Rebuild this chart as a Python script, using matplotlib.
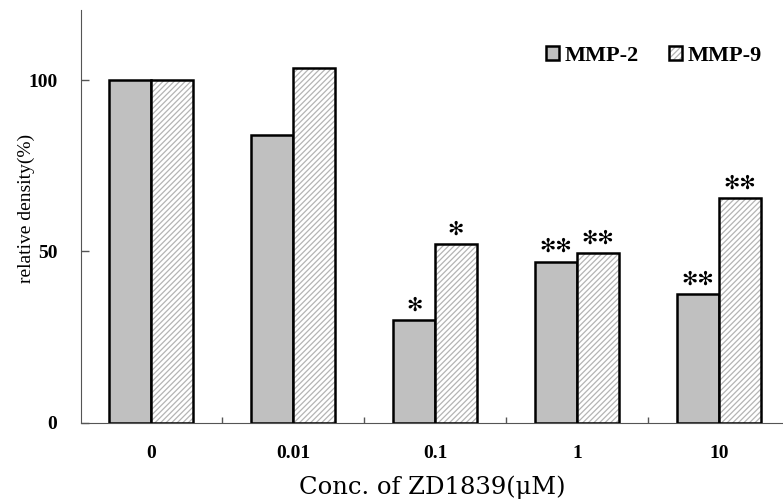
import numpy as np
import matplotlib
matplotlib.use("Agg")
import matplotlib.pyplot as plt

# data
conc = ["0", "0.01", "0.1", "1", "10"]
mmp2 = [100, 84, 30, 47, 37.5]
mmp9 = [100, 103.5, 52, 49.5, 65.5]
mmp2_sig = ["", "", "✻", "✻✻", "✻✻"]
mmp9_sig = ["", "", "✻", "✻✻", "✻✻"]

plt.rcParams['hatch.linewidth'] = 0.9
serif = ["Liberation Serif", "DejaVu Serif"]

fig = plt.figure(figsize=(7.83, 5.03), dpi=100)
ax = fig.add_axes([81 / 783, 80.5 / 503, 702 / 783, 412.5 / 503])

x = np.arange(len(conc))
w = 0.295

b2 = ax.bar(x - w / 2, mmp2, w, color="#c0c0c0", edgecolor="black", linewidth=1.8, zorder=2)
# hatched bars: hatch in light grey, outline drawn on top in black
b9h = ax.bar(x + w / 2, mmp9, w, color="white", edgecolor="#b4b4b4", hatch="//////", linewidth=0, zorder=2)
b9 = ax.bar(x + w / 2, mmp9, w, fill=False, edgecolor="black", linewidth=1.8, zorder=3)

# significance marks
for xi, v, s in zip(x - w / 2, mmp2, mmp2_sig):
    if s:
        ax.annotate(s, (xi, v), xytext=(0, 4), textcoords="offset points",
                    ha="center", va="bottom", fontsize=14, fontfamily="DejaVu Sans")
for xi, v, s in zip(x + w / 2, mmp9, mmp9_sig):
    if s:
        ax.annotate(s, (xi, v), xytext=(0, 4), textcoords="offset points",
                    ha="center", va="bottom", fontsize=14, fontfamily="DejaVu Sans")

ax.set_xlim(-0.493, 4.45)
ax.set_ylim(0, 120.5)

ax.spines["top"].set_visible(False)
ax.spines["right"].set_visible(False)
ax.spines["left"].set_color("#555555")
ax.spines["bottom"].set_color("#555555")

ax.set_yticks([0, 50, 100])
ax.set_yticklabels(["0", "50", "100"], fontfamily=serif, fontweight="bold", fontsize=14)
ax.tick_params(axis="y", direction="in", length=6, width=1, color="#555555", pad=17)

ax.set_xticks(x)
ax.set_xticklabels(conc, fontfamily=serif, fontweight="bold", fontsize=14)
ax.tick_params(axis="x", length=0, pad=16)
ax.set_xticks(x[:-1] + 0.5, minor=True)
ax.tick_params(axis="x", which="minor", direction="in", length=4, width=1, color="#555555")

ax.set_ylabel("relative density(%)", fontfamily=serif, fontsize=14)
ax.yaxis.set_label_coords(-0.065, 0.52)
ax.set_xlabel("Conc. of ZD1839(μM)", fontfamily="DejaVu Serif", fontsize=17.5)
ax.xaxis.set_label_coords(0.5, -0.128)

leg = ax.legend([b2, (b9h, b9)], ["MMP-2", "MMP-9"], ncol=2, frameon=False,
                loc="upper left", bbox_to_anchor=(526 / 783, 1 - 26 / 503),
                bbox_transform=fig.transFigure,
                handlelength=0.6, handleheight=0.6, handletextpad=0.25, columnspacing=1.33,
                prop={"family": serif, "weight": "bold", "size": 16})

fig.savefig("out.png", dpi=100)
